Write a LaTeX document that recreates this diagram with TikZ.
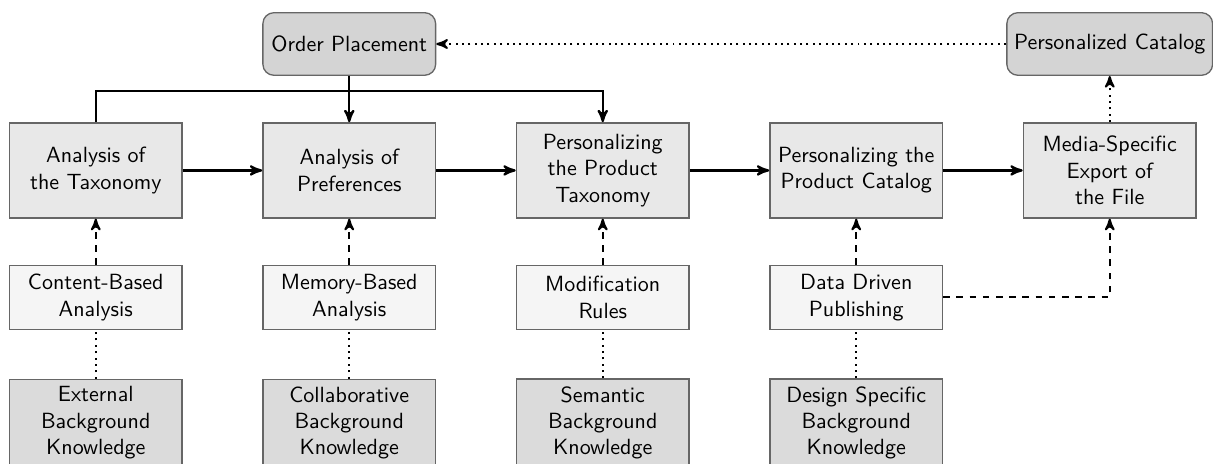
\documentclass[tikz,border=0pt]{standalone}
\usetikzlibrary{shapes,arrows}

\begin{document}
\begin{tikzpicture}
  [font=\sffamily,>=stealth',
   mainbox/.style={draw=black!60,semithick,fill=black!9,align=center,minimum width=2.76cm,minimum height=1.52cm},
   subbox/.style={draw=black!60,semithick,fill=black!4,align=center,minimum width=2.76cm,minimum height=1.02cm},
   knowbox/.style={draw=black!60,semithick,fill=black!14,align=center,minimum width=2.76cm,minimum height=1.37cm},
   endbox/.style={draw=black!60,semithick,fill=black!17,rounded corners=5pt,align=center,minimum width=2.76cm,minimum height=1cm},
   flow/.style={->,line width=1pt},
   feed/.style={->,line width=0.9pt,dashed},
   link/.style={line width=0.9pt,dotted}]

  \useasboundingbox (0,0) rectangle (19.38,7.413);

  % top row
  \node[endbox] (order)   at (5.58,6.71)  {Order Placement};
  \node[endbox] (catalog) at (17.73,6.71) {Personalized Catalog};

  % process steps
  \node[mainbox] (tax)    at (1.53,4.69)  {Analysis of\\the Taxonomy};
  \node[mainbox] (pref)   at (5.58,4.69)  {Analysis of\\Preferences};
  \node[mainbox] (ptax)   at (9.63,4.69)  {Personalizing\\the Product\\Taxonomy};
  \node[mainbox] (pcat)   at (13.68,4.69) {Personalizing the\\Product Catalog};
  \node[mainbox] (export) at (17.73,4.69) {Media-Specific\\Export of\\the File};

  % methods
  \node[subbox] (cba)   at (1.53,2.66)  {Content-Based\\Analysis};
  \node[subbox] (mba)   at (5.58,2.66)  {Memory-Based\\Analysis};
  \node[subbox] (rules) at (9.63,2.66)  {Modification\\Rules};
  \node[subbox] (ddp)   at (13.68,2.66) {Data Driven\\Publishing};

  % knowledge
  \node[knowbox] (ext)    at (1.53,0.655)  {External\\Background\\Knowledge};
  \node[knowbox] (coll)   at (5.58,0.655)  {Collaborative\\Background\\Knowledge};
  \node[knowbox] (sem)    at (9.63,0.655)  {Semantic\\Background\\Knowledge};
  \node[knowbox] (design) at (13.68,0.655) {Design Specific\\Background\\Knowledge};

  \foreach \from/\to in {tax/pref,pref/ptax,ptax/pcat,pcat/export}
    \draw[flow] (\from.east) -- (\to.west);

  \draw[flow] (order.south) -- (pref.north);
  \draw[flow] (tax.north) -- ++(0,0.494) -| (ptax.north);

  \foreach \from/\to in {cba/tax,mba/pref,rules/ptax,ddp/pcat}
    \draw[feed] (\from.north) -- (\to.south);
  \draw[feed] (ddp.east) -| (export.south);

  \foreach \from/\to in {ext/cba,coll/mba,sem/rules,design/ddp}
    \draw[link] (\from.north) -- (\to.south);

  \draw[link,->] (catalog.west) -- (order.east);
  \draw[link,->] (export.north) -- (catalog.south);

\end{tikzpicture}
\end{document}
